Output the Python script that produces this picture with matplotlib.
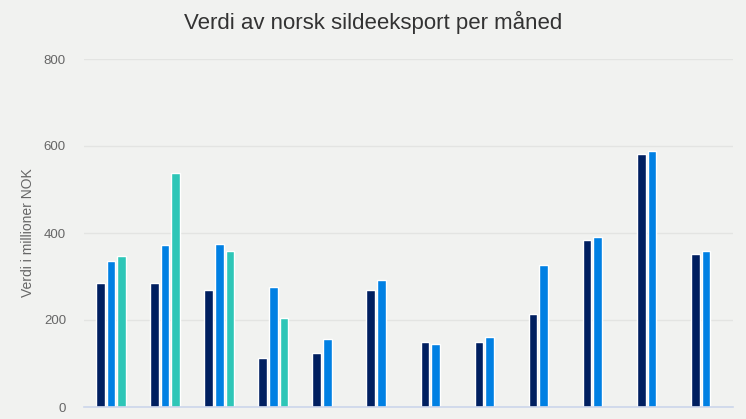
import numpy as np
import matplotlib.pyplot as plt

plt.rcParams['font.family'] = ['Liberation Sans', 'DejaVu Sans']

months = ['Jan', 'Feb', 'Mar', 'Apr', 'Mai', 'Jun', 'Jul', 'Aug', 'Sep', 'Okt', 'Nov', 'Des']
series_a = [284, 284, 270, 112, 125, 270, 150, 150, 213, 385, 581, 352]
series_b = [336, 372, 375, 276, 156, 292, 145, 161, 327, 390, 589, 358]
series_c = [346, 537, 359, 205, np.nan, np.nan, np.nan, np.nan, np.nan, np.nan, np.nan, np.nan]

colors = ['#001f60', '#0080e3', '#2ec6b7']
bg = '#f1f2f0'

fig = plt.figure(figsize=(7.46, 4.19), dpi=100, facecolor=bg)
ax = fig.add_axes([84 / 746, 1 - 407 / 419, (733 - 84) / 746, (407 - 59) / 419])
ax.set_facecolor(bg)

x = np.arange(len(months))
slot = 0.197
width = 0.16
for i, (vals, c) in enumerate(zip([series_a, series_b, series_c], colors)):
    ax.bar(x + (i - 1) * slot, vals, width=width, color=c,
           edgecolor='white', linewidth=1, zorder=3)

ax.set_xlim(-0.5, len(months) - 0.5)
ax.set_ylim(0, 800)
ax.set_yticks([0, 200, 400, 600, 800])
ax.grid(axis='y', color='#e3e4e2', linewidth=1, zorder=0)
ax.set_xticks([])
for s in ['top', 'right', 'left']:
    ax.spines[s].set_visible(False)
ax.spines['bottom'].set_color('#ccd6eb')
ax.spines['bottom'].set_linewidth(1.2)
ax.spines['bottom'].set_zorder(4)
ax.tick_params(axis='y', length=0, labelsize=9.5, labelcolor='#666666', pad=13)
ax.set_ylabel('Verdi i millioner NOK', fontsize=10, color='#666666', labelpad=6)

fig.text(0.5, 1 - 22 / 419, 'Verdi av norsk sildeeksport per måned',
         ha='center', va='center', fontsize=16, color='#333333')

fig.savefig('out.png', dpi=100, facecolor=bg)
